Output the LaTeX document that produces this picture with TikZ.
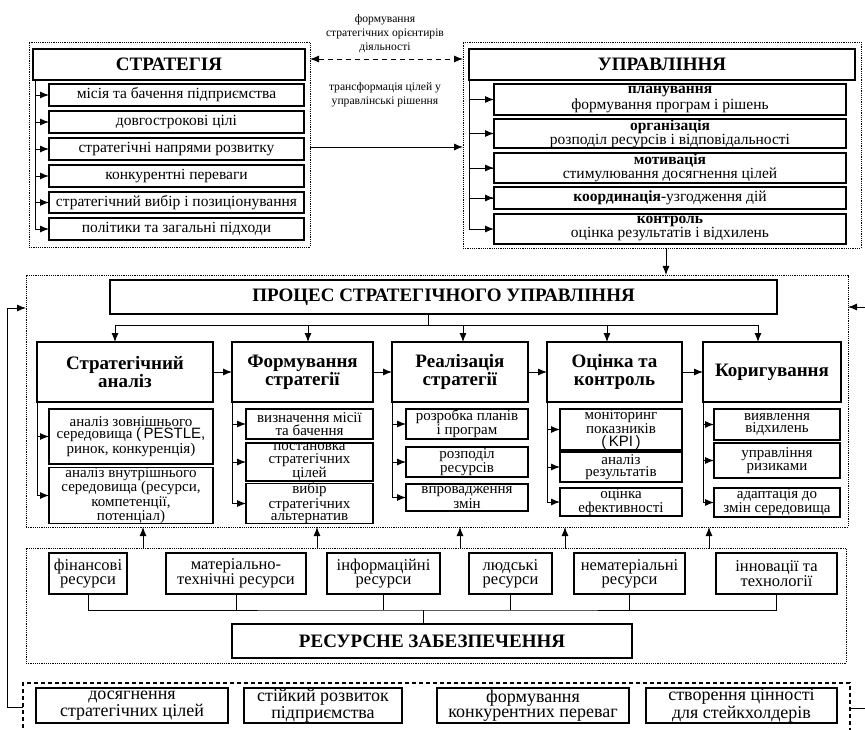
\documentclass[tikz,border=0pt]{standalone}
\usepackage{fontspec}
\setmainfont{Liberation Serif}
\newfontfamily\lsans{Liberation Sans}
\usetikzlibrary{arrows.meta}
\newcommand{\bx}[7][]{%
  \pgfmathsetmacro\bxw{#5-#3}%
  \pgfmathsetmacro\bxh{#6-#4}%
  \node[box,#1,minimum width=\bxw pt,minimum height=\bxh pt] (#2) at ({(#3+#5)/2},{(#4+#6)/2}) {#7};%
}
\tikzset{
  box/.style={draw, line width=1.2pt, inner sep=0pt, outer sep=0pt, align=center,
              font=\fontsize{15.5}{14}\selectfont},
  hd/.style={font=\fontsize{19}{18}\selectfont\bfseries},
  col/.style={font=\fontsize{15}{12.6}\selectfont},
  big/.style={font=\fontsize{16.5}{14}\selectfont},
  outtxt/.style={font=\fontsize{18}{15.5}\selectfont},
  grp/.style={draw, densely dotted, line width=0.7pt, inner sep=0pt, outer sep=0pt},
  grpd/.style={draw, dash pattern=on 4pt off 3pt, line width=1.8pt, inner sep=0pt, outer sep=0pt},
  arr/.style={-{Latex[length=9pt,width=7pt]}, line width=0.9pt},
  barr/.style={{Latex[length=9pt,width=7pt]}-{Latex[length=9pt,width=7pt]}, line width=0.9pt, dash pattern=on 5pt off 4pt},
  ln/.style={line width=0.9pt},
  lbl/.style={align=center, font=\fontsize{11.6}{14}\selectfont, inner sep=0pt}
}
\begin{document}
\begin{tikzpicture}[x=1pt,y=-1pt]
\useasboundingbox (0,0) rectangle (865,730);
\fill[white] (0,0) rectangle (865,730);
\clip (0,0) rectangle (865,730);
% group frames
\bx[grp]{sBox}{29}{42}{310}{247}{}
\bx[grp]{uBox}{463}{42}{861}{248}{}
\bx[grp]{proc}{26}{275}{848}{527}{}
\bx[grp]{resb}{26}{548}{846}{663}{}
\bx[grpd]{outb}{23}{683}{850}{745}{}
% strategy
\bx[hd]{sHead}{33}{49}{305}{80}{СТРАТЕГІЯ}
\bx{s1}{49}{84}{304}{106}{місія та бачення підприємства}
\bx{s2}{49}{111}{304}{133}{довгострокові цілі}
\bx{s3}{49}{138}{304}{160}{стратегічні напрями розвитку}
\bx{s4}{49}{165}{304}{187}{конкурентні переваги}
\bx{s5}{49}{192}{304}{213}{стратегічний вибір і позиціонування}
\bx{s6}{49}{218}{304}{240}{політики та загальні підходи}
\coordinate (sl) at (35,80);
\foreach \n in {s1,s2,s3,s4,s5,s6} \draw[arr] (sl) |- (\n.west);
% management
\bx[hd]{uHead}{469}{49}{855}{80}{УПРАВЛІННЯ}
\bx{u1}{494}{84}{846}{115}{\textbf{планування}\\формування програм і рішень}
\bx{u2}{494}{119}{846}{148}{\textbf{організація}\\розподіл ресурсів і відповідальності}
\bx{u3}{494}{153}{846}{183}{\textbf{мотивація}\\стимулювання досягнення цілей}
\bx{u4}{494}{187}{846}{209}{\textbf{координація}-узгодження дій}
\bx{u5}{494}{214}{846}{244}{\textbf{контроль}\\оцінка результатів і відхилень}
\draw[arr] (uHead.south west) |- (u1.west);
\draw[arr] (u1.west) -- (u1.west -| uHead.west) |- (u2.west);
\draw[arr] (u2.west) -- (u2.west -| uHead.west) |- (u3.west);
\draw[arr] (u3.west) -- (u3.west -| uHead.west) |- (u4.west);
\draw[arr] (u4.west) -- (u4.west -| uHead.west) |- (u5.west);
% top connectors
\node[lbl] (lab1) at (385,34) {формування\\стратегічних орієнтирів\\діяльності};
\node[lbl] (lab2) at (385,95) {трансформація цілей у\\управлінські рішення};
\coordinate (da) at (0,59);
\coordinate (sa) at (0,147);
\draw[barr] (da -| sBox.east) -- (da -| uBox.west);
\draw[arr] (sa -| sBox.east) -- (sa -| uBox.west);
\coordinate (ud) at (666,248);
\draw[arr] (ud) -- (ud |- proc.north);
% process
\bx[hd]{pHead}{110}{280}{777}{314}{ПРОЦЕС СТРАТЕГІЧНОГО УПРАВЛІННЯ}
\coordinate (pt) at (428,314);
\coordinate (pb) at (428,325);
\coordinate (b1) at (115,325);
\coordinate (b2) at (308,325);
\coordinate (b3) at (463,325);
\coordinate (b4) at (607,325);
\coordinate (b5) at (758,325);
\draw[ln] (pt) -- (pb);
\draw[ln] (b1) -- (b5);
\bx[hd]{c1}{37}{342}{213}{402}{Стратегічний\\аналіз}
\bx[hd]{c2}{232}{342}{373}{402}{Формування\\стратегії}
\bx[hd]{c3}{392}{342}{528}{402}{Реалізація\\стратегії}
\bx[hd]{c4}{547}{342}{682}{402}{Оцінка та\\контроль}
\bx[hd]{c5}{703}{342}{841}{402}{Коригування}
\draw[arr] (b1) -- (b1 |- c1.north);
\draw[arr] (b2) -- (b2 |- c2.north);
\draw[arr] (b3) -- (b3 |- c3.north);
\draw[arr] (b4) -- (b4 |- c4.north);
\draw[arr] (b5) -- (b5 |- c5.north);
\draw[arr] (c1.east) -- (c2.west);
\draw[arr] (c2.east) -- (c3.west);
\draw[arr] (c3.east) -- (c4.west);
\draw[arr] (c4.east) -- (c5.west);
% column subs
\bx[col]{c1a}{49}{409}{213}{464}{аналіз зовнішнього\\середовища {\lsans(\,PESTLE,}\\ринок, конкуренція)}
\bx[col]{c1b}{49}{468}{213}{523}{аналіз внутрішнього\\середовища (ресурси,\\компетенції,\\потенціал)}
\bx[col]{c2a}{246}{409}{373}{439}{визначення місії\\та бачення}
\bx[col]{c2b}{246}{443}{373}{481}{постановка\\стратегічних\\цілей}
\bx[col]{c2c}{246}{484}{373}{523}{вибір\\стратегічних\\альтернатив}
\bx[col]{c3a}{406}{409}{528}{439}{розробка планів\\і програм}
\bx[col]{c3b}{406}{447}{528}{477}{розподіл\\ресурсів}
\bx[col]{c3c}{406}{484}{528}{511}{впровадження\\змін}
\bx[col]{c4a}{560}{409}{682}{450}{моніторинг\\показників\\{\lsans(\,KPI\,)}}
\bx[col]{c4b}{560}{452}{682}{482}{аналіз\\результатів}
\bx[col]{c4c}{560}{488}{682}{516}{оцінка\\ефективності}
\bx[col]{c5a}{714}{409}{840}{440}{виявлення\\відхилень}
\bx[col]{c5b}{714}{443}{840}{478}{управління\\ризиками}
\bx[col]{c5c}{714}{488}{840}{517}{адаптація до\\змін середовища}
\foreach \c/\s in {c1/c1a,c1/c1b,c2/c2a,c2/c2b,c2/c2c,c3/c3a,c3/c3b,c3/c3c,c4/c4a,c4/c4b,c4/c4c,c5/c5a,c5/c5b,c5/c5c}
  \draw[arr] (\c.south west) |- (\s.west);
% resources
\bx[big]{r1}{49}{553}{127}{594}{фінансові\\ресурси}
\bx[big]{r2}{166}{553}{306}{594}{матеріально-\\технічні ресурси}
\bx[big]{r3}{327}{553}{440}{594}{інформаційні\\ресурси}
\bx[big]{r4}{469}{553}{552}{594}{людські\\ресурси}
\bx[big]{r5}{574}{553}{685}{594}{нематеріальні\\ресурси}
\bx[big]{r6}{716}{553}{837}{594}{інновації та\\технології}
\bx[hd]{rh}{232}{624}{632}{658}{РЕСУРСНЕ ЗАБЕЗПЕЧЕННЯ}
\coordinate (rbar) at (423,610);
\draw[ln] (r1.south) |- (rbar) -| (r6.south);
\foreach \r in {r2,r3,r4,r5} \draw[ln] (\r.south) -- (\r.south |- rbar);
\draw[ln] (rbar) -- (rbar |- rh.north);
\foreach \x [count=\i] in {143,317,460,565,709} {
  \coordinate (ua\i) at (\x,548);
  \draw[arr] (ua\i) -- (ua\i |- proc.south);
}
% outcomes
\bx[outtxt]{o1}{36}{688}{228}{723}{досягнення\\стратегічних цілей}
\bx[outtxt]{o2}{244}{688}{402}{723}{стійкий розвиток\\підприємства}
\bx[outtxt]{o3}{437}{688}{629}{723}{формування\\конкурентних переваг}
\bx[outtxt]{o4}{646}{688}{837}{723}{створення цінності\\для стейкхолдерів}
\coordinate (bL) at (23,707);
\coordinate (lc) at (7,308);
\draw[arr] (bL) -| (lc) -- (lc -| proc.west);
\coordinate (bR) at (850,708);
\coordinate (rc) at (880,307);
\draw[arr] (bR) -| (rc) -- (rc -| proc.east);
\end{tikzpicture}
\end{document}
